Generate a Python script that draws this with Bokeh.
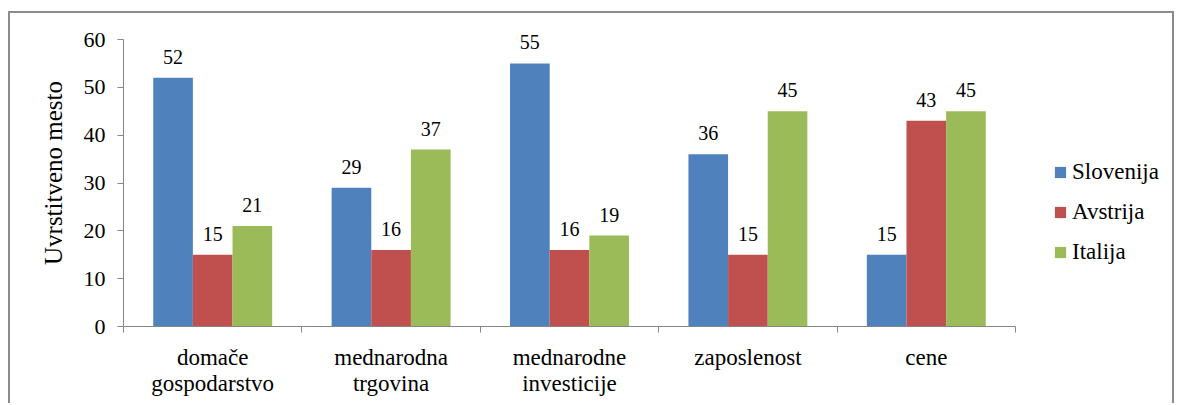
from bokeh.plotting import figure
from bokeh.models import (Range1d, LinearAxis, FixedTicker, Legend, LegendItem,
                          ColumnDataSource)
from bokeh.core.properties import value
from bokeh.embed import file_html
from bokeh.resources import INLINE

categories = ["domače\ngospodarstvo", "mednarodna\ntrgovina", "mednarodne\ninvesticije",
              "zaposlenost", "cene"]
series = ["Slovenija", "Avstrija", "Italija"]
slovenija = [52, 29, 55, 36, 15]
avstrija = [15, 16, 16, 15, 43]
italija = [21, 37, 19, 45, 45]
y_ticks = [0, 10, 20, 30, 40, 50, 60]
colors = ["#4F81BD", "#C0504D", "#9BBB59"]

FONT = "'Liberation Serif'"
W, H = 1166, 392
LEFT, TOP, BOTTOM = 113, 6, 79
CAT_PX = 178.4           # pixels per category
AXIS_PX = 287            # pixels from 0 to 60 on the y axis
RIGHT_PAD = 4
n = len(categories)
y_max = y_ticks[-1]
x_end = (W - LEFT - RIGHT_PAD) / CAT_PX            # room for the legend inside the frame
y_end = (H - TOP - BOTTOM) / (AXIS_PX / y_max)     # room for labels above 60

p = figure(width=W, height=H, output_backend="svg", toolbar_location=None,
           x_range=Range1d(0, x_end), y_range=Range1d(0, y_end),
           x_axis_type=None, y_axis_type=None,
           min_border_left=LEFT, min_border_right=RIGHT_PAD,
           min_border_top=TOP, min_border_bottom=BOTTOM)
p.outline_line_color = None
p.xgrid.visible = False
p.ygrid.visible = False
p.background_fill_color = "white"
p.border_fill_color = "white"
p.styles = {"border-top": "2px solid #8c8c8c", "border-left": "2px solid #8c8c8c",
            "border-right": "2px solid #8c8c8c", "margin-left": "8px", "margin-top": "11px"}

bw = 1 / 4.5
offsets = [-bw, 0, bw]
all_vals = [slovenija, avstrija, italija]
items = []
for name, vals, off, col in zip(series, all_vals, offsets, colors):
    xs = [i + 0.5 + off for i in range(n)]
    src = ColumnDataSource(dict(x=xs, top=vals, lab=[str(v) for v in vals]))
    r = p.vbar(x="x", top="top", bottom=0, width=bw, source=src,
               fill_color=col, line_color=None)
    p.text(x="x", y="top", text="lab", source=src, text_align="center",
           text_baseline="alphabetic", y_offset=-21, text_font=value(FONT),
           text_font_size="20px", text_color="#000000")
    items.append(LegendItem(label=name, renderers=[r]))

yax = LinearAxis(ticker=FixedTicker(ticks=y_ticks), bounds=(0, y_max))
yax.axis_line_color = "#868686"
yax.major_tick_line_color = "#868686"
yax.major_tick_out = 6
yax.major_tick_in = 0
yax.minor_tick_line_color = None
yax.major_label_text_font = FONT
yax.major_label_text_font_size = "22px"
yax.major_label_text_color = "#000000"
yax.major_label_standoff = 12
yax.axis_label = "Uvrstitveno mesto"
yax.axis_label_text_font = FONT
yax.axis_label_text_font_size = "25px"
yax.axis_label_text_font_style = "normal"
yax.axis_label_text_color = "#000000"
yax.axis_label_standoff = 14
p.add_layout(yax, "left")

bounds = list(range(n + 1))
xax = LinearAxis(ticker=FixedTicker(ticks=bounds), bounds=(0, n))
xax.axis_line_color = "#868686"
xax.major_tick_line_color = "#868686"
xax.major_tick_out = 6
xax.major_tick_in = 0
xax.minor_tick_line_color = None
xax.major_label_overrides = {b: "" for b in bounds}
xax.major_label_text_font_size = "1px"
xax.major_label_standoff = 0
p.add_layout(xax, "below")

centers = [i + 0.5 for i in range(n)]
xlab = LinearAxis(ticker=FixedTicker(ticks=centers), bounds=(0, n))
xlab.axis_line_color = None
xlab.major_tick_line_color = None
xlab.minor_tick_line_color = None
xlab.major_label_overrides = {c: t for c, t in zip(centers, categories)}
xlab.major_label_text_font = FONT
xlab.major_label_text_font_size = "23px"
xlab.major_label_text_color = "#000000"
xlab.major_label_text_line_height = 1.05
xlab.major_label_standoff = 6
p.add_layout(xlab, "below")

legend = Legend(items=items, location=(n * CAT_PX + 38, 61))
legend.border_line_color = None
legend.background_fill_alpha = 0
legend.padding = 0
legend.margin = 0
legend.glyph_width = 14
legend.glyph_height = 14
legend.label_standoff = 5
legend.spacing = 14
legend.label_text_font = FONT
legend.label_text_font_size = "23px"
legend.label_text_color = "#000000"
p.add_layout(legend, "center")

open("out.html", "w").write(file_html(p, INLINE))
